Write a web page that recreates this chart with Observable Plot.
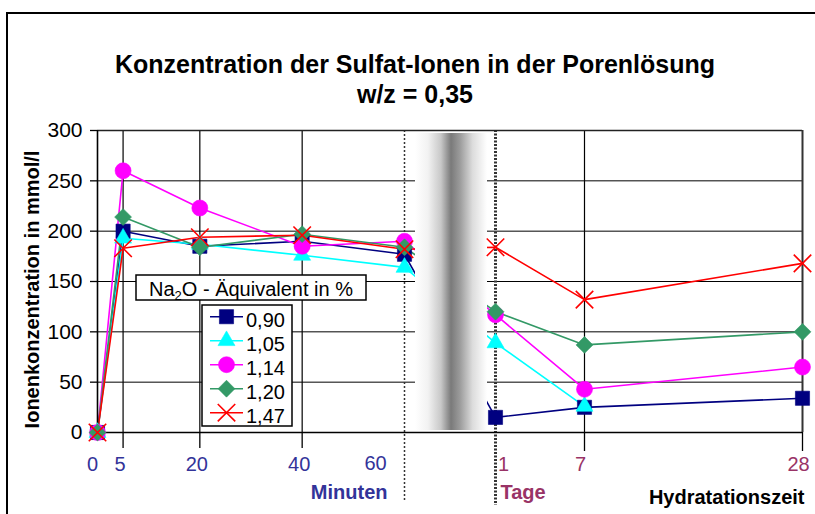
<!DOCTYPE html>
<html>
<head>
<meta charset="utf-8">
<script src="https://cdn.jsdelivr.net/npm/d3@7"></script>
<script src="https://cdn.jsdelivr.net/npm/@observablehq/plot@0.6"></script>
<style>
  body { margin: 0; background: #fff; font-family: "Liberation Sans", Arial, sans-serif; }
  #wrap { position: relative; width: 815px; height: 514px; overflow: hidden; background: #fff; }
  #frame { position: absolute; left: 6px; top: 12px; width: 840px; height: 540px; border-left: 2px solid #000; border-top: 2px solid #000; }
  #title { position: absolute; left: 0; top: 49px; width: 830px; text-align: center; font-weight: bold; font-size: 25px; line-height: 30px; color: #000; }
  #chart { position: absolute; left: 0; top: 0; }
  #legend { position: absolute; left: 0; top: 0; pointer-events: none; }
</style>
</head>
<body>
<div id="wrap">
  <div id="frame"></div>
  <div id="chart"></div>
  <div id="title">Konzentration der Sulfat-Ionen in der Porenlösung<br>w/z = 0,35</div>
  <svg id="legend" width="815" height="514"></svg>
</div>
<script>
// ---------------- data ----------------
const timeMinutes = [0, 5, 20, 40, 60, 1440, 10080, 40320]; // 1 d = 1440 min
const minuteTickValues = [0, 5, 20, 40, 60];
const minuteTickLabels = ["0", "5", "20", "40", "60"];
const dayTickValues = [1440, 10080, 40320];
const dayTickLabels = ["1", "7", "28"];
const yTicks = [0, 50, 100, 150, 200, 250, 300];

const seriesNames = ["0,90", "1,05", "1,14", "1,20", "1,47"];
const s090 = [0, 200, 185, 190, 177, 15, 25, 34];
const s105 = [0, 193, 187, 176, 164, 89, 26, null];
const s114 = [0, 260, 223, 185, 190, 117, 43, 65];
const s120 = [0, 214, 184, 197, 184, 120, 87, 100];
const s147 = [0, 183, 194, 196, 182, 184, 132, 168];

const seriesColors = ["#000080", "#00FFFF", "#FF00FF", "#339966", "#FF0000"];
const seriesSymbols = ["square", "triangle", "circle", "diamond2", "times"];
const seriesR = [8, 6.3, 8, 7.6, 8];

const yLabel = "Ionenkonzentration in mmol/l";

// ---------------- table ----------------
const seriesValues = [s090, s105, s114, s120, s147];
const rows = [];
seriesValues.forEach((vals, i) => vals.forEach((v, j) => {
  if (v != null) rows.push({series: seriesNames[i], t: timeMinutes[j], v});
}));

const font = "'Liberation Sans', Arial, sans-serif";
const minuteCol = "#333399";
const dayCol = "#993366";

const lineMarks = seriesNames.map((name, i) =>
  Plot.line(rows.filter(r => r.series === name), {x: "t", y: "v", stroke: seriesColors[i], strokeWidth: 1.6})
);
const dotMarks = seriesNames.map((name, i) => {
  const isStroke = seriesSymbols[i] === "times";
  return Plot.dot(rows.filter(r => r.series === name), {
    x: "t", y: "v", symbol: seriesSymbols[i], r: seriesR[i],
    fill: isStroke ? "none" : seriesColors[i],
    stroke: seriesColors[i],
    strokeWidth: isStroke ? 1.6 : 0.6
  });
});

const breakBand = [{from: timeMinutes[4], to: timeMinutes[5]}];

const chart = Plot.plot({
  width: 815,
  height: 514,
  marginLeft: 97,
  marginRight: 13,
  marginTop: 130,
  marginBottom: 82,
  style: {fontFamily: font, background: "transparent", overflow: "visible", color: "#000"},
  x: {type: "linear", domain: [0, 60, 1440, 10080, 40320], range: [97, 404, 495, 584, 802]},
  y: {domain: [0, 300]},
  marks: [
    // horizontal grid
    Plot.ruleY(yTicks.slice(1, -1), {stroke: "#000", strokeWidth: 1}),
    // vertical solid grid lines
    Plot.ruleX([minuteTickValues[1], minuteTickValues[2], minuteTickValues[3], dayTickValues[1]], {stroke: "#000", strokeWidth: 1.2}),
    // dotted separators
    Plot.ruleX([minuteTickValues[4]], {stroke: "#333", strokeWidth: 1.5, strokeDasharray: "2,2", insetBottom: -68}),
    Plot.ruleX([dayTickValues[0]], {stroke: "#333", strokeWidth: 3, strokeDasharray: "2,1.5", insetBottom: -73}),
    // series lines
    ...lineMarks,
    // break band (gradient)
    Plot.rect(breakBand, {x1: "from", x2: "to", y1: yTicks[0], y2: yTicks[yTicks.length - 1],
      insetLeft: 11, insetRight: 8, insetTop: 3, insetBottom: 2, fill: "url(#breakGrad)"}),
    // frame
    Plot.ruleY([yTicks[yTicks.length - 1]], {stroke: "#222", strokeWidth: 1.6}),
    Plot.ruleX([dayTickValues[2]], {stroke: "#333", strokeWidth: 2}),
    Plot.ruleX([minuteTickValues[0]], {stroke: "#000", strokeWidth: 1.6}),
    Plot.ruleY([yTicks[0]], {stroke: "#000", strokeWidth: 1.6}),
    // axes ticks
    Plot.axisY(yTicks, {tickSize: 7, tickPadding: 8, fontSize: 21, label: null, stroke: "#000", strokeWidth: 1.3}),
    Plot.axisX(minuteTickValues.slice(1, 4), {tickSize: 16, tickFormat: () => "", label: null, stroke: "#000", strokeWidth: 1.3}),
    Plot.axisX(dayTickValues.slice(1), {tickSize: 19, tickFormat: () => "", label: null, stroke: "#000", strokeWidth: 1.3}),
    // tick labels
    Plot.text([0], {x: d => minuteTickValues[d], text: d => minuteTickLabels[d], frameAnchor: "bottom", lineAnchor: "bottom", dy: 38, dx: -5, fill: minuteCol, fontSize: 20}),
    Plot.text([1, 2, 3], {x: d => minuteTickValues[d], text: d => minuteTickLabels[d], frameAnchor: "bottom", lineAnchor: "bottom", dy: 38, dx: -3, fill: minuteCol, fontSize: 20}),
    Plot.text([4], {x: d => minuteTickValues[d], text: d => minuteTickLabels[d], frameAnchor: "bottom", lineAnchor: "bottom", dy: 37, dx: -29, fill: minuteCol, fontSize: 20}),
    Plot.text([0], {x: d => dayTickValues[d], text: d => dayTickLabels[d], frameAnchor: "bottom", lineAnchor: "bottom", dy: 38, dx: 8, fill: dayCol, fontSize: 20}),
    Plot.text([1, 2], {x: d => dayTickValues[d], text: d => dayTickLabels[d], frameAnchor: "bottom", lineAnchor: "bottom", dy: 38, dx: -4, fill: dayCol, fontSize: 20}),
    // axis titles
    Plot.text(["Minuten"], {x: minuteTickValues[4], text: d => d, frameAnchor: "bottom", lineAnchor: "bottom", textAnchor: "end", dx: -17, dy: 66, fill: minuteCol, fontSize: 20, fontWeight: "bold"}),
    Plot.text(["Tage"], {x: dayTickValues[0], text: d => d, frameAnchor: "bottom", lineAnchor: "bottom", textAnchor: "start", dx: 5, dy: 66, fill: dayCol, fontSize: 20, fontWeight: "bold"}),
    Plot.text(["Hydratationszeit"], {x: dayTickValues[2], text: d => d, frameAnchor: "bottom", lineAnchor: "bottom", textAnchor: "end", dx: 2, dy: 71, fill: "#000", fontSize: 20, fontWeight: "bold"}),
    // markers
    ...dotMarks
  ]
});

// gradient for the time break
const svgSel = d3.select(chart);
const defs = svgSel.insert("defs", ":first-child");
const grad = defs.append("linearGradient").attr("id", "breakGrad")
  .attr("x1", "0").attr("x2", "1").attr("y1", "0").attr("y2", "0");
[[0, "#ffffff"], [0.18, "#f2f2f2"], [0.36, "#c8c8c8"], [0.5, "#7a7a7a"], [0.62, "#9a9a9a"], [0.8, "#dcdcdc"], [1, "#ffffff"]]
  .forEach(([o, c]) => grad.append("stop").attr("offset", o).attr("stop-color", c));

document.getElementById("chart").appendChild(chart);

// ---------------- overlay: y label + legend ----------------
const leg = d3.select("#legend");
leg.append("text").attr("transform", "translate(32,289.5) rotate(-90)")
  .attr("text-anchor", "middle").attr("dy", "0.35em")
  .attr("font-family", font).attr("font-size", 20).attr("font-weight", "bold").attr("fill", "#000")
  .text(yLabel);

leg.append("rect").attr("x", 136).attr("y", 275).attr("width", 230).attr("height", 25)
  .attr("fill", "#fff").attr("stroke", "#000").attr("stroke-width", 1.5);
const lt = leg.append("text").attr("x", 251).attr("y", 295.5).attr("text-anchor", "middle")
  .attr("font-family", font).attr("font-size", 20).attr("fill", "#000");
lt.append("tspan").text("Na");
lt.append("tspan").attr("font-size", 13).attr("dy", 4).text("2");
lt.append("tspan").attr("dy", -4).text("O - Äquivalent in %");

leg.append("rect").attr("x", 202).attr("y", 305).attr("width", 90).attr("height", 121)
  .attr("fill", "#fff").attr("stroke", "#000").attr("stroke-width", 1.5);
const symMap = {square: d3.symbolSquare, triangle: d3.symbolTriangle, circle: d3.symbolCircle, diamond2: d3.symbolDiamond2, times: d3.symbolTimes};
seriesNames.forEach((name, i) => {
  const cy = 316.7 + i * 24;
  leg.append("line").attr("x1", 210).attr("x2", 243).attr("y1", cy).attr("y2", cy)
    .attr("stroke", seriesColors[i]).attr("stroke-width", 1.6);
  const isStroke = seriesSymbols[i] === "times";
  leg.append("path").attr("transform", `translate(226.5,${cy})`)
    .attr("d", d3.symbol(symMap[seriesSymbols[i]], Math.PI * seriesR[i] * seriesR[i])())
    .attr("fill", isStroke ? "none" : seriesColors[i])
    .attr("stroke", seriesColors[i]).attr("stroke-width", isStroke ? 1.6 : 0.6);
  leg.append("text").attr("x", 246).attr("y", cy + 10).attr("font-family", font)
    .attr("font-size", 20).attr("fill", "#000").text(name);
});
</script>
</body>
</html>
